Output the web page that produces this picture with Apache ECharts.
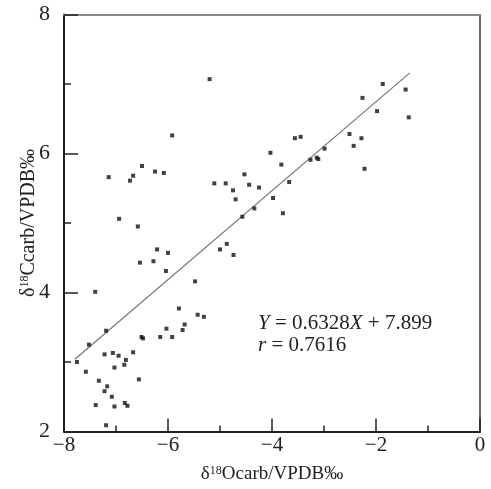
<!DOCTYPE html>
<html>
<head>
<meta charset="utf-8">
<script src="https://cdn.jsdelivr.net/npm/echarts@6/dist/echarts.min.js"></script>
<style>html,body{margin:0;padding:0;background:#fff;}#c{width:491px;height:489px;}</style>
</head>
<body>
<div id="c"></div>
<script>
var xValues = [-5.20,-5.92,-4.03,-7.14,-6.50,-6.73,-6.67,-6.25,-6.08,-5.11,-4.89,-4.53,-4.75,-4.44,-4.25,-4.70,-3.98,-4.34,-4.57,-6.94,
  -1.87,-1.43,-2.26,-1.98,-1.37,-3.56,-3.45,-2.51,-2.28,-2.43,-2.99,-3.82,-3.26,-3.14,-3.11,-2.22,-3.67,-3.79,
  -6.58,-6.21,-6.00,-6.54,-6.28,-6.04,-5.00,-4.87,-4.74,-5.48,-7.40,-5.79,-5.43,-5.31,-7.19,-5.68,-5.72,-6.03,-5.92,-6.15,-6.51,-6.48,
  -7.52,-7.75,-7.58,-7.22,-7.06,-6.95,-6.67,-6.81,-6.84,-7.03,-7.33,-7.17,-7.22,-6.56,-7.08,-7.39,-7.03,-6.83,-6.78,-7.19];
var yValues = [7.07,6.26,6.01,5.66,5.82,5.61,5.68,5.74,5.72,5.57,5.57,5.70,5.47,5.55,5.51,5.34,5.36,5.21,5.09,5.06,
  7.00,6.92,6.80,6.61,6.52,6.22,6.24,6.28,6.22,6.11,6.07,5.84,5.91,5.94,5.92,5.78,5.59,5.14,
  4.95,4.62,4.57,4.43,4.45,4.31,4.62,4.70,4.54,4.16,4.01,3.77,3.68,3.65,3.45,3.54,3.46,3.48,3.36,3.36,3.36,3.34,
  3.25,3.00,2.86,3.11,3.13,3.09,3.14,3.03,2.96,2.92,2.73,2.65,2.58,2.75,2.50,2.38,2.36,2.41,2.37,2.09];
var fitX = [-7.79, -1.35];
var fitY = [3.04, 7.16];
var xTicks = [-8, -6, -4, -2, 0];
var yTicks = [2, 4, 6, 8];
var eqText = ['{i|Y} = 0.6328{i|X} + 7.899', '{i|r} = 0.7616'];

var pts = xValues.map(function (x, i) { return [x, yValues[i]]; });
var fit = fitX.map(function (x, i) { return [x, fitY[i]]; });
var serif = '"Liberation Serif","DejaVu Serif",serif';
var fmtX = function (v) { return v < 0 ? '\u2212' + Math.abs(v) : String(v); };

var chart = echarts.init(document.getElementById('c'));
chart.setOption({
  animation: false,
  backgroundColor: '#fff',
  grid: { left: 64, right: 11, top: 14.5, bottom: 56.7, containLabel: false },
  xAxis: [{
    type: 'value', min: -8, max: 0, interval: 2, position: 'bottom',
    axisLine: { show: true, onZero: false, lineStyle: { color: '#222', width: 2 } },
    axisTick: { show: true, inside: true, length: 13, lineStyle: { color: '#222', width: 1.5 } },
    minorTick: { show: true, splitNumber: 2, length: 6, lineStyle: { color: '#222', width: 1.5 } },
    splitLine: { show: false },
    axisLabel: { color: '#222', fontFamily: serif, fontSize: 21, margin: 3, formatter: fmtX },
    name: '{a|\u03b4}{s|18}{a|Ocarb/VPDB\u2030}', nameLocation: 'middle', nameGap: 33, nameMoveOverlap: false,
    nameTextStyle: { rich: {
      a: { fontFamily: serif, fontSize: 19, color: '#222' },
      s: { fontFamily: serif, fontSize: 12, color: '#222', verticalAlign: 'top', padding: [0, 0, 8, 0] }
    } }
  }, {
    type: 'value', min: -8, max: 0, position: 'top',
    axisLine: { show: true, onZero: false, lineStyle: { color: '#888', width: 2 } },
    axisTick: { show: false }, axisLabel: { show: false }, splitLine: { show: false }
  }],
  yAxis: [{
    type: 'value', min: 2, max: 8, interval: 2, position: 'left',
    axisLine: { show: true, onZero: false, lineStyle: { color: '#222', width: 2 } },
    axisTick: { show: true, inside: true, length: 14, lineStyle: { color: '#222', width: 1.5 } },
    minorTick: { show: true, splitNumber: 2, length: 7, lineStyle: { color: '#222', width: 1.5 } },
    splitLine: { show: false },
    axisLabel: { color: '#222', fontFamily: serif, fontSize: 22, margin: 14 },
    name: '{a|\u03b4}{s|18}{a|Ccarb/VPDB\u2030}', nameLocation: 'middle', nameGap: 25, nameRotate: 90, nameMoveOverlap: false,
    nameTextStyle: { rich: {
      a: { fontFamily: serif, fontSize: 20, color: '#222' },
      s: { fontFamily: serif, fontSize: 12, color: '#222', verticalAlign: 'top', padding: [0, 0, 8, 0] }
    } }
  }, {
    type: 'value', min: 2, max: 8, position: 'right',
    axisLine: { show: true, onZero: false, lineStyle: { color: '#333', width: 1.5 } },
    axisTick: { show: false }, axisLabel: { show: false }, splitLine: { show: false }
  }],
  series: [{
    type: 'scatter', data: pts, symbol: 'rect', symbolSize: 4,
    itemStyle: { color: '#111' }, z: 3
  }, {
    type: 'line', data: fit, showSymbol: false, symbol: 'none',
    lineStyle: { color: '#777', width: 1.2 }, z: 2
  }],
  graphic: [{
    type: 'text', left: 258, top: 312,
    style: { text: eqText[0] + '\n' + eqText[1], fontFamily: serif, fontSize: 21, fill: '#222', lineHeight: 22,
      rich: { i: { fontStyle: 'italic', fontFamily: serif, fontSize: 21, fill: '#222' } } }
  }]
});
</script>
</body>
</html>
